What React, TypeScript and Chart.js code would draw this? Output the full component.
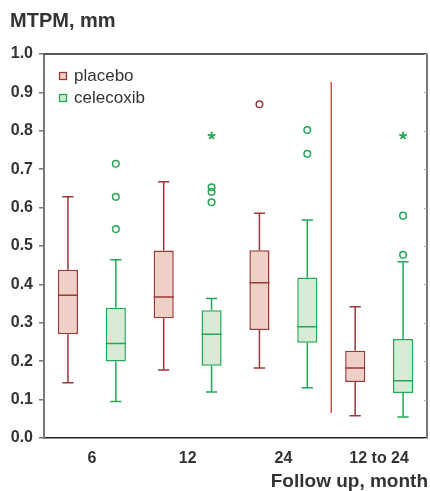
import React, { useEffect, useRef } from "react";
import { Chart, registerables } from "chart.js";

Chart.register(...registerables);

const categories = ["6", "12", "24", "12 to 24"];
const seriesNames = ["placebo", "celecoxib"];

const placeboQ1 = [0.27, 0.312, 0.281, 0.146];
const placeboMedian = [0.372, 0.367, 0.404, 0.182];
const placeboQ3 = [0.438, 0.488, 0.489, 0.227];
const placeboMin = [0.144, 0.177, 0.182, 0.058];
const placeboMax = [0.628, 0.667, 0.585, 0.342];
const placeboOutliers = [[], [], [0.869], []];
const placeboExtremes = [[], [], [], []];

const celecoxibQ1 = [0.199, 0.188, 0.248, 0.117];
const celecoxibMedian = [0.246, 0.27, 0.29, 0.149];
const celecoxibQ3 = [0.339, 0.333, 0.418, 0.258];
const celecoxibMin = [0.095, 0.12, 0.131, 0.055];
const celecoxibMax = [0.464, 0.363, 0.568, 0.459];
const celecoxibOutliers = [[0.714, 0.628, 0.544], [0.653, 0.641, 0.614], [0.802, 0.74], [0.579, 0.477]];
const celecoxibExtremes = [[], [0.787], [], [0.787]];

const dividerRange = [0.065, 0.927];
const yTicksMin = 0;
const yTicksMax = 1;
const yStep = 0.1;

const yTitle = "MTPM, mm";
const xTitle = "Follow up, month";

const FONT = "'Liberation Sans', Arial, Helvetica, sans-serif";
const TEXT = "#333333";
const strokeColors = ["#9b3838", "#22a855"];
const fillColors = ["#efd0c6", "#d6ead4"];

const stats = [
  { q1: placeboQ1, med: placeboMedian, q3: placeboQ3, lo: placeboMin, hi: placeboMax, out: placeboOutliers, ext: placeboExtremes },
  { q1: celecoxibQ1, med: celecoxibMedian, q3: celecoxibQ3, lo: celecoxibMin, hi: celecoxibMax, out: celecoxibOutliers, ext: celecoxibExtremes },
];

const boxPlugin = {
  id: "boxExtras",
  afterDatasetsDraw(chart: any) {
    const ctx = chart.ctx;
    const y = chart.scales.y;
    const x = chart.scales.x;
    const area = chart.chartArea;
    ctx.save();
    stats.forEach((s, di) => {
      const meta = chart.getDatasetMeta(di);
      const color = strokeColors[di];
      ctx.strokeStyle = color;
      ctx.fillStyle = color;
      ctx.lineWidth = 1.5;
      meta.data.forEach((bar: any, i: number) => {
        const cx = bar.x;
        const w = bar.width;
        const yq1 = y.getPixelForValue(s.q1[i]);
        const yq3 = y.getPixelForValue(s.q3[i]);
        const ylo = y.getPixelForValue(s.lo[i]);
        const yhi = y.getPixelForValue(s.hi[i]);
        const ymed = y.getPixelForValue(s.med[i]);
        const cap = w * 0.28;
        ctx.beginPath();
        ctx.moveTo(cx, yq3);
        ctx.lineTo(cx, yhi);
        ctx.moveTo(cx - cap, yhi);
        ctx.lineTo(cx + cap, yhi);
        ctx.moveTo(cx, yq1);
        ctx.lineTo(cx, ylo);
        ctx.moveTo(cx - cap, ylo);
        ctx.lineTo(cx + cap, ylo);
        ctx.moveTo(cx - w / 2, ymed);
        ctx.lineTo(cx + w / 2, ymed);
        ctx.stroke();
        s.out[i].forEach((v: number) => {
          const py = y.getPixelForValue(v);
          ctx.beginPath();
          ctx.arc(cx, py, 3.3, 0, Math.PI * 2);
          ctx.stroke();
        });
        s.ext[i].forEach((v: number) => {
          const py = y.getPixelForValue(v);
          ctx.beginPath();
          ctx.lineWidth = 1.8;
          const r = 4;
          for (let k = 0; k < 5; k++) {
            const a = -Math.PI / 2 + (k * 2 * Math.PI) / 5;
            ctx.moveTo(cx, py);
            ctx.lineTo(cx + r * Math.cos(a), py + r * Math.sin(a));
          }
          ctx.stroke();
          ctx.lineWidth = 1.5;
        });
      });
    });

    // divider between follow-up points and the 12 to 24 change
    const xd = (x.getPixelForValue(2) + x.getPixelForValue(3)) / 2;
    ctx.strokeStyle = "#ee2e2e";
    ctx.lineWidth = 1.3;
    ctx.beginPath();
    ctx.moveTo(xd, y.getPixelForValue(dividerRange[1]));
    ctx.lineTo(xd, y.getPixelForValue(dividerRange[0]));
    ctx.stroke();

    // frame: top and right
    ctx.strokeStyle = "#222";
    ctx.lineWidth = 1.5;
    ctx.beginPath();
    ctx.moveTo(area.left, area.top);
    ctx.lineTo(area.right, area.top);
    ctx.stroke();
    ctx.strokeStyle = "#777";
    ctx.lineWidth = 2;
    ctx.beginPath();
    ctx.moveTo(area.right, area.top);
    ctx.lineTo(area.right, area.bottom);
    ctx.stroke();
    ctx.strokeStyle = "#aaa";
    ctx.lineWidth = 1;
    ctx.beginPath();
    y.ticks.forEach((t: any) => {
      const py = Math.round(y.getPixelForValue(t.value)) + 0.5;
      ctx.moveTo(area.right - 3, py);
      ctx.lineTo(area.right, py);
    });
    ctx.stroke();

    // legend
    seriesNames.forEach((name, i) => {
      const ly = area.top + 22 + i * 22;
      ctx.fillStyle = fillColors[i];
      ctx.fillRect(area.left + 15.5, ly - 3.5, 7, 7);
      ctx.strokeStyle = strokeColors[i];
      ctx.lineWidth = 1.3;
      ctx.strokeRect(area.left + 15.5, ly - 3.5, 7, 7);
      ctx.fillStyle = TEXT;
      ctx.font = `17px ${FONT}`;
      ctx.textAlign = "left";
      ctx.textBaseline = "middle";
      ctx.fillText(name, area.left + 30, ly);
    });

    // titles
    ctx.fillStyle = TEXT;
    ctx.textBaseline = "alphabetic";
    ctx.font = `bold 20px ${FONT}`;
    ctx.textAlign = "left";
    ctx.fillText(yTitle, 10, 27);
    ctx.font = `bold 19px ${FONT}`;
    ctx.textAlign = "right";
    ctx.fillText(xTitle, 428, 487);
    ctx.restore();
  },
};

export default function App() {
  const ref = useRef<HTMLCanvasElement | null>(null);
  useEffect(() => {
    if (!ref.current) return;
    const chart = new Chart(ref.current, {
      type: "bar",
      data: {
        labels: categories,
        datasets: stats.map((s, i) => ({
          label: seriesNames[i],
          data: s.q1.map((v, j) => [v, s.q3[j]]),
          backgroundColor: fillColors[i],
          borderColor: strokeColors[i],
          borderWidth: 1.5,
          borderSkipped: false,
          barPercentage: 0.42,
          categoryPercentage: 1,
        })),
      },
      options: {
        responsive: false,
        animation: false,
        layout: { padding: { left: 0, top: 54, right: 3, bottom: 0 } },
        plugins: { legend: { display: false }, tooltip: { enabled: false }, title: { display: false } },
        scales: {
          x: {
            grid: { display: false, drawTicks: false },
            border: { display: true, color: "#222", width: 1.5 },
            ticks: { color: TEXT, font: { family: FONT, size: 16, weight: "bold" }, padding: 11 },
            afterFit: (s: any) => { s.height = 53; },
          },
          y: {
            min: yTicksMin,
            max: yTicksMax,
            grid: { drawOnChartArea: false, drawTicks: true, tickLength: 5, color: "#777", lineWidth: 1.5 },
            border: { display: true, color: "#777", width: 2 },
            ticks: {
              stepSize: yStep,
              color: TEXT,
              padding: 6,
              font: { family: FONT, size: 16, weight: "bold" },
              callback: (v: any) => Number(v).toFixed(1),
            },
            afterFit: (s: any) => { s.width = 44; },
          },
        },
      },
      plugins: [boxPlugin],
    });
    return () => chart.destroy();
  }, []);
  return (
    <div style={{ position: "fixed", left: 0, top: 0, width: 430, height: 491, background: "#fff" }}>
      <canvas ref={ref} width={430} height={491} style={{ width: 430, height: 491, display: "block" }} />
    </div>
  );
}
